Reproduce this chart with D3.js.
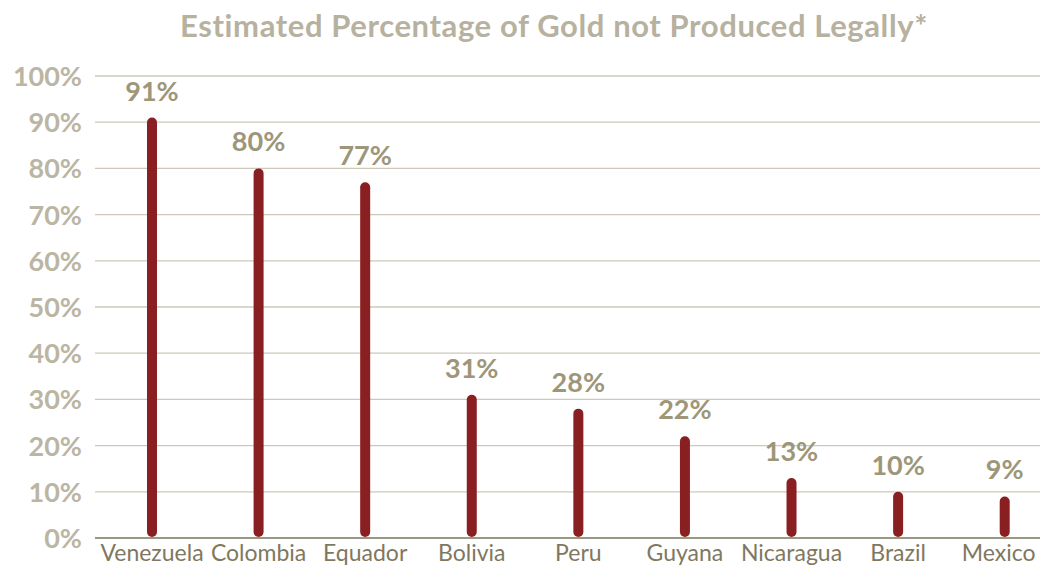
<!DOCTYPE html>
<html>
<head>
<meta charset="utf-8">
<script src="https://cdn.jsdelivr.net/npm/d3@7"></script>
<style>
  body { margin: 0; background: #fff; }
  svg { display: block; }
  .title { font-family: Lato, sans-serif; font-weight: 700; font-size: 31px; letter-spacing: 0.6px; fill: #b7b19f; }
  .tick-label { font-family: Lato, sans-serif; font-weight: 700; font-size: 27px; fill: #bbb5a3; }
  .value-label { font-family: Lato, sans-serif; font-weight: 700; font-size: 27px; fill: #9d9679; }
  .cat-label { font-family: Lato, sans-serif; font-size: 23px; fill: #7f7860; }
</style>
</head>
<body>
<div class="container"></div>
<script>
const WIDTH = 1040;
const HEIGHT = 565;

const countries = ["Venezuela", "Colombia", "Equador", "Bolivia", "Peru", "Guyana", "Nicaragua", "Brazil", "Mexico"];
const values = [91, 80, 77, 31, 28, 22, 13, 10, 9];
const yTicks = [0, 10, 20, 30, 40, 50, 60, 70, 80, 90, 100];

var xScale = d3.scaleBand()
    .domain(countries)
    .range([98.7, 1058]);

var yScale = d3.scaleLinear()
    .domain([0, 100])
    .range([538, 76]);

var svg = d3.select('.container').append('svg')
    .attr('width', WIDTH)
    .attr('height', HEIGHT);

svg.append('text')
    .attr('class', 'title')
    .attr('x', 554)
    .attr('y', 37)
    .attr('text-anchor', 'middle')
    .text('Estimated Percentage of Gold not Produced Legally*');

// gridlines
svg.append('g').selectAll('line')
    .data(yTicks.filter(function(d){ return d > 0; }))
    .enter()
    .append('line')
    .attr('x1', 95)
    .attr('x2', WIDTH)
    .attr('y1', function(d){ return yScale(d); })
    .attr('y2', function(d){ return yScale(d); })
    .attr('stroke', '#cdc8ba')
    .attr('stroke-width', 1.3);

// y tick labels
svg.append('g').selectAll('text')
    .data(yTicks)
    .enter()
    .append('text')
    .attr('class', 'tick-label')
    .attr('x', 82)
    .attr('y', function(d){ return yScale(d) + 10; })
    .attr('text-anchor', 'end')
    .text(function(d){ return d + '%'; });

// bars as thin rounded columns
svg.append('g').selectAll('rect')
    .data(values)
    .enter()
    .append('rect')
    .attr('x', function(d, i){ return xScale(countries[i]) + xScale.bandwidth() / 2 - 5; })
    .attr('y', function(d){ return yScale(d); })
    .attr('width', 10)
    .attr('height', function(d){ return yScale(0) - yScale(d) - 1; })
    .attr('rx', 5)
    .attr('fill', '#8a1f21');

// value labels
svg.append('g').selectAll('text')
    .data(values)
    .enter()
    .append('text')
    .attr('class', 'value-label')
    .attr('x', function(d, i){ return xScale(countries[i]) + xScale.bandwidth() / 2; })
    .attr('y', function(d){ return yScale(d) - 17; })
    .attr('text-anchor', 'middle')
    .text(function(d){ return d + '%'; });

// baseline
svg.append('line')
    .attr('x1', 95)
    .attr('x2', WIDTH)
    .attr('y1', yScale(0))
    .attr('y2', yScale(0))
    .attr('stroke', '#7a745c')
    .attr('stroke-width', 1.5);

// category labels
svg.append('g').selectAll('text')
    .data(countries)
    .enter()
    .append('text')
    .attr('class', 'cat-label')
    .attr('x', function(d, i){ return xScale(d) + xScale.bandwidth() / 2 - (i === countries.length - 1 ? 6 : 0); })
    .attr('y', 561)
    .attr('text-anchor', 'middle')
    .text(function(d){ return d; });
</script>
</body>
</html>
